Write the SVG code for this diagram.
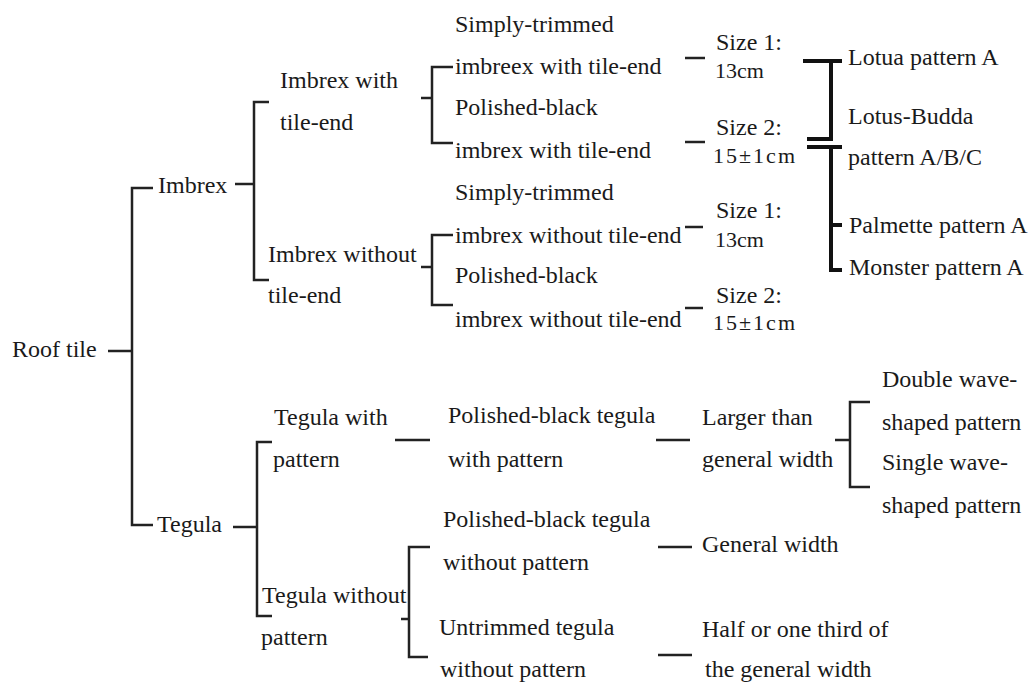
<svg xmlns="http://www.w3.org/2000/svg" width="1032" height="686" viewBox="0 0 1032 686">
<style>
text{font-family:"Liberation Serif","Times New Roman",serif;font-size:24px;fill:#1a1a1a}
.num{font-size:22px}
.ln{fill:none;stroke:#222;stroke-width:2.5}
.tk{fill:none;stroke:#111;stroke-width:4}
</style>
<rect width="1032" height="686" fill="#fff"/>
<g id="connectors">
<path class="ln" d="M108 351H132"/>
<path class="ln" d="M153 188H132V525H153"/>
<path class="ln" d="M235 184H254"/>
<path class="ln" d="M269 102H254V280H269"/>
<path class="ln" d="M421 98H432"/>
<path class="ln" d="M453 67H432V143H453"/>
<path class="ln" d="M421 267H432"/>
<path class="ln" d="M453 235H432V305H453"/>
<path class="ln" d="M685 58H705"/>
<path class="ln" d="M685 142H705"/>
<path class="ln" d="M685 227H703"/>
<path class="ln" d="M685 308H703"/>
<path class="tk" d="M803 61H842"/>
<path class="tk" d="M831 61V139H807"/>
<path class="tk" d="M807 147H842"/>
<path class="tk" d="M831 147V270H842"/>
<path class="tk" d="M831 225H842"/>
<path class="ln" d="M233 527H257"/>
<path class="ln" d="M272 442H257V616H272"/>
<path class="ln" d="M395 440H430"/>
<path class="ln" d="M656 440H690"/>
<path class="ln" d="M401 619H409"/>
<path class="ln" d="M430 547H409V657H428"/>
<path class="ln" d="M658 547H692"/>
<path class="ln" d="M658 655H692"/>
<path class="ln" d="M835 440H850"/>
<path class="ln" d="M870 402H850V487H870"/>
</g>
<g id="n-roof"><text x="12" y="357">Roof tile</text></g>
<g id="n-imbrex"><text x="158" y="193">Imbrex</text></g>
<g id="n-tegula"><text x="157" y="532">Tegula</text></g>
<g id="n-imbrex-with"><text x="280" y="88">Imbrex with</text><text x="280" y="130">tile-end</text></g>
<g id="n-imbrex-without"><text x="268" y="262">Imbrex without</text><text x="268" y="303">tile-end</text></g>
<g id="n-st-with"><text x="455" y="32">Simply-trimmed</text><text x="455" y="74">imbreex with tile-end</text></g>
<g id="n-pb-with"><text x="455" y="115">Polished-black</text><text x="455" y="158">imbrex with tile-end</text></g>
<g id="n-st-without"><text x="455" y="200">Simply-trimmed</text><text x="455" y="243">imbrex without tile-end</text></g>
<g id="n-pb-without"><text x="455" y="283">Polished-black</text><text x="455" y="327">imbrex without tile-end</text></g>
<g id="n-size1a"><text x="716" y="50">Size 1:</text><text class="num" x="715" y="78">13cm</text></g>
<g id="n-size2a"><text x="716" y="135">Size 2:</text><text class="num" x="713" y="163" textLength="82" lengthAdjust="spacing">15±1cm</text></g>
<g id="n-size1b"><text x="716" y="218">Size 1:</text><text class="num" x="715" y="247">13cm</text></g>
<g id="n-size2b"><text x="716" y="303">Size 2:</text><text class="num" x="713" y="330" textLength="82" lengthAdjust="spacing">15±1cm</text></g>
<g id="n-lotua"><text x="848" y="65">Lotua pattern A</text></g>
<g id="n-lotus-budda"><text x="848" y="124">Lotus-Budda</text><text x="848" y="165">pattern A/B/C</text></g>
<g id="n-palmette"><text x="849" y="233">Palmette pattern A</text></g>
<g id="n-monster"><text x="849" y="275">Monster pattern A</text></g>
<g id="n-tegula-with"><text x="274" y="425">Tegula with</text><text x="273" y="467">pattern</text></g>
<g id="n-tegula-without"><text x="262" y="603">Tegula without</text><text x="261" y="645">pattern</text></g>
<g id="n-pbt-with"><text x="448" y="423">Polished-black tegula</text><text x="448" y="467">with pattern</text></g>
<g id="n-pbt-without"><text x="443" y="527">Polished-black tegula</text><text x="443" y="570">without pattern</text></g>
<g id="n-untrimmed"><text x="439" y="635">Untrimmed tegula</text><text x="440" y="677">without pattern</text></g>
<g id="n-larger"><text x="702" y="425">Larger than</text><text x="702" y="467">general width</text></g>
<g id="n-double"><text x="882" y="387">Double wave-</text><text x="882" y="430">shaped pattern</text></g>
<g id="n-single"><text x="882" y="470">Single wave-</text><text x="882" y="513">shaped pattern</text></g>
<g id="n-general"><text x="702" y="552">General width</text></g>
<g id="n-half"><text x="702" y="637">Half or one third of</text><text x="705" y="677">the general width</text></g>
</svg>
